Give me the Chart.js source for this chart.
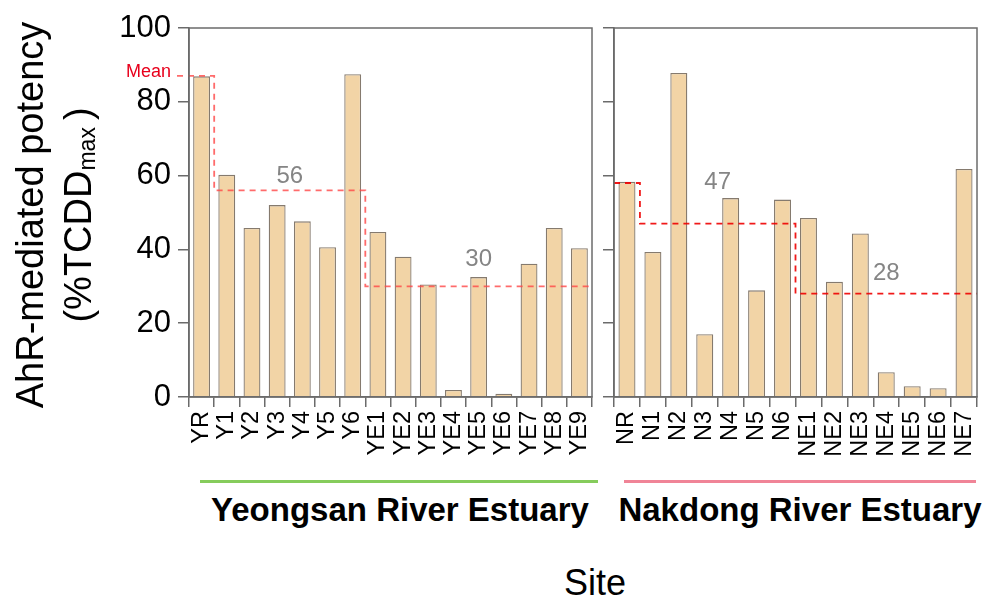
<!DOCTYPE html>
<html>
<head>
<meta charset="utf-8">
<title>AhR-mediated potency by site</title>
<script src="https://cdn.jsdelivr.net/npm/chart.js@4/dist/chart.umd.min.js"></script>
<style>
  html, body { margin: 0; padding: 0; background: #fff; }
  body { width: 987px; height: 602px; position: relative; overflow: hidden;
         font-family: 'Liberation Sans', Arial, sans-serif; color: #000; }
  canvas { position: absolute; top: 0; }
  #leftPanel { left: 0; }
  #rightPanel { left: 600px; }
  .ytitle { position: absolute; left: -156px; top: 167px; width: 420px; height: 96px;
            transform: rotate(-90deg); text-align: center; font-size: 38px; line-height: 48px;
            white-space: nowrap; }
  .ytitle sub { font-size: 23px; vertical-align: -4px; margin-right: 7px; }
  .rule { position: absolute; top: 480px; height: 3px; }
  .group { position: absolute; top: 493px; font-size: 33px; font-weight: bold; line-height: 33px;
           white-space: nowrap; text-align: center; }
  .xtitle { position: absolute; left: 495px; width: 200px; top: 565px; font-size: 36px;
            line-height: 36px; text-align: center; }
</style>
</head>
<body>
<canvas id="leftPanel" width="600" height="480"></canvas>
<canvas id="rightPanel" width="387" height="480"></canvas>

<div class="ytitle">AhR-mediated potency<br>(%TCDD<sub>max</sub>)</div>

<div class="rule" style="left:200px;width:398px;background:#86cc5c;"></div>
<div class="rule" style="left:624px;width:352px;background:#f08497;"></div>
<div class="group" style="left:200px;width:400px;">Yeongsan River Estuary</div>
<div class="group" style="left:610px;width:380px;">Nakdong River Estuary</div>
<div class="xtitle">Site</div>

<script>
// Sampling sites and measured potency (% of TCDD max)
const yeongsanSites = ['YR', 'Y1', 'Y2', 'Y3', 'Y4', 'Y5', 'Y6',
  'YE1', 'YE2', 'YE3', 'YE4', 'YE5', 'YE6', 'YE7', 'YE8', 'YE9'];
const yeongsanPotency = [86.9, 60.2, 45.8, 52.0, 47.6, 40.6, 87.5,
  44.7, 38.0, 30.5, 1.9, 32.5, 0.9, 36.1, 45.8, 40.3];

const nakdongSites = ['NR', 'N1', 'N2', 'N3', 'N4', 'N5', 'N6',
  'NE1', 'NE2', 'NE3', 'NE4', 'NE5', 'NE6', 'NE7'];
const nakdongPotency = [58.3, 39.3, 87.8, 17.0, 53.9, 28.9, 53.5,
  48.5, 31.2, 44.3, 6.7, 2.9, 2.4, 61.8];

// Group means: river, inland sites, estuary sites
const yeongsanMeans = [87, 56, 30];
const nakdongMeans = [58, 47, 28];
// First and last site index of each group
const yeongsanGroups = [[0, 0], [1, 6], [7, 15]];
const nakdongGroups = [[0, 0], [1, 6], [7, 13]];

const potencyTicks = [0, 20, 40, 60, 80, 100];

const FONT = "'Liberation Sans', Arial, sans-serif";
Chart.defaults.font.family = FONT;
Chart.defaults.color = '#000';

const AXIS_GREY = '#6b6b6b';

// Thin frame around the plotting area (top and right edges)
const framePlugin = {
  id: 'frame',
  afterDraw(chart) {
    const { ctx, chartArea: a } = chart;
    ctx.save();
    ctx.strokeStyle = AXIS_GREY;
    ctx.lineWidth = 1.5;
    ctx.strokeRect(a.left, a.top, a.right - a.left, a.bottom - a.top);
    ctx.restore();
  }
};

// Dashed step line showing the mean of each site group, with value labels
const meanStepPlugin = {
  id: 'meanStep',
  afterDatasetsDraw(chart, args, opts) {
    const xs = chart.scales.x, ys = chart.scales.y, ctx = chart.ctx;
    const segs = opts.groups.map((g, i) => {
      let x0 = xs.getPixelForValue(g[0] - 0.5);
      const x1 = xs.getPixelForValue(g[1] + 0.5);
      if (i === 0) x0 -= opts.leadIn;
      return { x0, x1, y: ys.getPixelForValue(opts.means[i]) };
    });
    ctx.save();
    ctx.setLineDash(opts.dash);
    ctx.strokeStyle = opts.color;
    ctx.lineWidth = opts.width;
    ctx.beginPath();
    segs.forEach((s, i) => {
      if (i === 0) ctx.moveTo(s.x0, s.y); else ctx.lineTo(s.x0, s.y);
      ctx.lineTo(s.x1, s.y);
    });
    ctx.stroke();
    ctx.setLineDash([]);

    ctx.fillStyle = '#858585';
    ctx.font = '24px ' + FONT;
    ctx.textAlign = 'center';
    ctx.textBaseline = 'middle';
    segs.forEach((s, i) => {
      const lift = opts.lift[i];
      if (lift == null) return;
      ctx.fillText(String(opts.means[i]), (s.x0 + s.x1) / 2, s.y - lift);
    });

    if (opts.caption) {
      ctx.fillStyle = '#e8001c';
      ctx.font = '18px ' + FONT;
      ctx.textAlign = 'right';
      ctx.textBaseline = 'alphabetic';
      ctx.fillText(opts.caption, segs[0].x0 - 6, segs[0].y + 1.5);
    }
    ctx.restore();
  }
};

function makePanel(canvasId, sites, values, means, groups, cfg) {
  return new Chart(document.getElementById(canvasId), {
    type: 'bar',
    data: {
      labels: sites,
      datasets: [{
        data: values,
        backgroundColor: '#f2d4a6',
        borderColor: '#857a6e',
        borderWidth: 1.3,
        barPercentage: cfg.barPct,
        categoryPercentage: 1
      }]
    },
    options: {
      responsive: false,
      animation: false,
      devicePixelRatio: 1,
      layout: { padding: { top: 28, right: cfg.padRight, left: 0, bottom: 0 } },
      plugins: {
        legend: { display: false },
        tooltip: { enabled: false },
        meanStep: {
          groups, means,
          lift: cfg.lift,
          leadIn: cfg.leadIn,
          caption: cfg.caption,
          color: cfg.lineColor,
          width: 1.8,
          dash: [6, 5]
        }
      },
      scales: {
        x: {
          type: 'category',
          offset: true,
          grid: { display: true, drawOnChartArea: false, drawTicks: true, tickLength: 10,
                  color: AXIS_GREY, lineWidth: 1.5, offset: true },
          border: { display: true, color: AXIS_GREY, width: 1.5 },
          ticks: { autoSkip: false, minRotation: 90, maxRotation: 90, padding: 4,
                   font: { size: 23.5 }, color: '#000' },
          afterFit(scale) {
            scale.height = 83;
            scale.paddingLeft = 0;
            scale.paddingRight = 0;
          }
        },
        y: {
          min: 0, max: 100,
          afterBuildTicks(scale) { scale.ticks = potencyTicks.map(v => ({ value: v })); },
          grid: { display: true, drawOnChartArea: false, drawTicks: true, tickLength: 11,
                  color: AXIS_GREY, lineWidth: 1.5 },
          border: { display: true, color: AXIS_GREY, width: 1.5 },
          ticks: { display: cfg.showYLabels, padding: 7, font: { size: 31 }, color: '#000' },
          afterFit(scale) {
            scale.width = cfg.yWidth;
            scale.paddingTop = 0;
            scale.paddingBottom = 0;
          }
        }
      }
    },
    plugins: [meanStepPlugin, framePlugin]
  });
}

makePanel('leftPanel', yeongsanSites, yeongsanPotency, yeongsanMeans, yeongsanGroups, {
  barPct: 0.67, padRight: 8, yWidth: 189, showYLabels: true,
  lift: [null, 14, 27], leadIn: 12, caption: 'Mean',
  lineColor: 'rgba(255, 70, 70, 0.8)'
});

makePanel('rightPanel', nakdongSites, nakdongPotency, nakdongMeans, nakdongGroups, {
  barPct: 0.656, padRight: 10, yWidth: 14, showYLabels: false,
  lift: [null, 41, 20], leadIn: 0, caption: null,
  lineColor: 'rgba(238, 0, 0, 0.9)'
});
</script>
</body>
</html>
